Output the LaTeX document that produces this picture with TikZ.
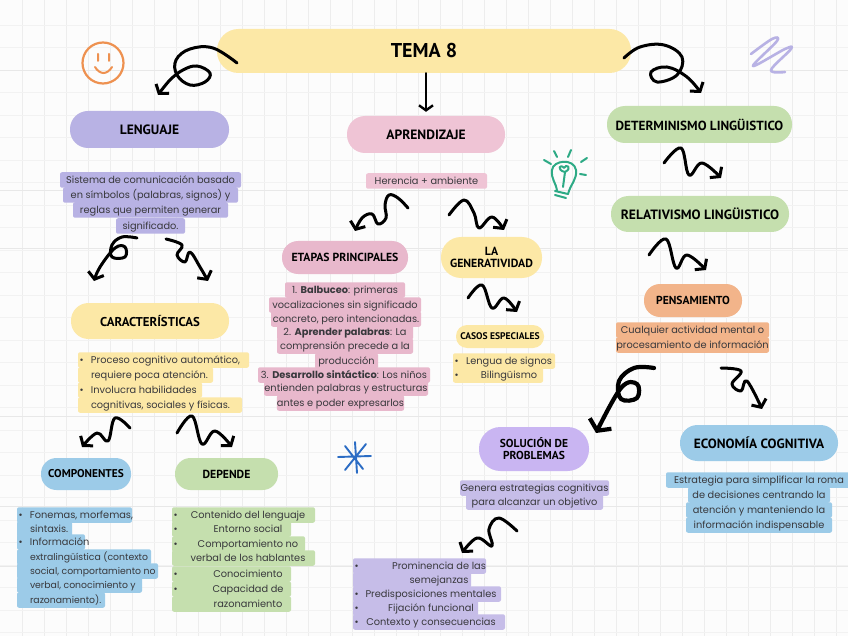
\documentclass[tikz,border=0pt]{standalone}
\usepackage{fontspec}
\setmainfont{Poppins}
\newfontfamily\headf{PT Sans}
\usetikzlibrary{arrows.meta}
\definecolor{ink}{HTML}{38383C}
\definecolor{cyel}{HTML}{FCE8A6}
\definecolor{cpur}{HTML}{B8B2E4}
\definecolor{cpink}{HTML}{EFC4D5}
\definecolor{cpinkb}{HTML}{E8B8CC}
\definecolor{cgrn}{HTML}{C5DFAE}
\definecolor{corg}{HTML}{F2B48A}
\definecolor{cblu}{HTML}{9CCBE8}
\definecolor{clil}{HTML}{C9B5F2}
\definecolor{cpurb}{HTML}{C6BDE8}
\definecolor{csmile}{HTML}{EE9150}
\definecolor{cbulb}{HTML}{2DAA85}
\definecolor{cstar}{HTML}{2B6CC4}
\tikzset{
  hl/.style={inner sep=0pt,minimum height=15.5pt,text height=8.5pt,text depth=1.5pt,rounded corners=2pt,font=\fontsize{9.8}{11}\selectfont,text=ink},
  pillbox/.style={inner sep=0pt,align=center,text=black,font=\headf\bfseries},
  squig/.style={draw=black,line width=3pt,line cap=round,line join=round,smooth,tension=0.65,-{Straight Barb[length=6pt,width=16pt,line width=3pt]}},
  squigb/.style={squig,line width=4.2pt,-{Straight Barb[length=8pt,width=24pt,line width=4.2pt]}},
  gridl/.style={draw=black!7,line width=.6pt}
}
\newcommand\fsz[1]{\fontsize{#1}{17}\selectfont}
\newcommand\nrw{\fontsize{9.3}{11}\selectfont}
\newcommand\pill[7]{\pgfmathsetmacro\pw{#4-#2}\pgfmathsetmacro\ph{#5-#3}\pgfmathsetmacro\pr{min(\pw,\ph)/2-0.5}\node[pillbox,fill=#6,minimum width=\pw pt,minimum height=\ph pt,rounded corners=\pr pt] (#1) at ({(#2+#4)/2},{(#3+#5)/2}) {#7};}
\newcommand\hlc[6]{\pgfmathsetmacro\hw{#3-#2}\node[hl,fill=#5,minimum width=\hw pt] (#1) at ({(#2+#3)/2},#4) {#6};}
\newcommand\hll[8]{\pgfmathsetmacro\hw{#3-#2}\node[hl,fill=#5,minimum width=\hw pt] (#1) at ({(#2+#3)/2},#4) {\makebox[\hw pt][l]{#6\hspace{#7pt}#8}};}
\newcommand\hlm[8]{\pgfmathsetmacro\hw{#3-#2}\node[hl,fill=#5,minimum width=\hw pt] (#1) at ({(#2+#3)/2},#4) {\makebox[\hw pt][l]{#6\hspace{#7pt}\makebox[0pt][c]{#8}}};}
\newcommand\bu{\rlap{\hspace{1.5pt}\textbullet}}
\begin{document}
\begin{tikzpicture}[x=1pt,y=-1pt]
\useasboundingbox (0,0) rectangle (848,636);
\fill[white!99!black] (0,0) rectangle (848,636);
% paper grid
\foreach \gx in {22,44,...,846}{\draw[gridl] (\gx,0) -- (\gx,636);}
\foreach \gy in {25,47.5,...,636}{\draw[draw=black!5,line width=.6pt] (0,\gy) -- (848,\gy);}
\foreach \gy in {70,190,248,416,506,566}{\draw[draw=black!9,line width=.8pt] (0,\gy) -- (848,\gy);}

% title and main boxes
\pill{tema}{217}{29}{631}{73}{cyel}{\fsz{20}TEMA 8}
\pill{leng}{70}{111}{229}{148}{cpur}{\fsz{13.5}LENGUAJE}
\pill{apre}{347}{116}{505}{153}{cpink}{\fsz{13.5}APRENDIZAJE}
\pill{dete}{607}{106}{792}{143}{cgrn}{\fsz{13.2}DETERMINISMO LINGÜISTICO}
\pill{rela}{611}{196}{789}{232}{cgrn}{\fsz{13.5}RELATIVISMO LINGÜISTICO}
\pill{pens}{644}{284}{742}{317}{corg}{\fsz{11.6}PENSAMIENTO}
\pill{etap}{282}{241}{408}{274}{cpinkb}{\fsz{11.7}ETAPAS PRINCIPALES}
\pill{gene}{441}{237}{542}{278}{cyel}{\fsz{11.8}LA\\\fsz{11.8}GENERATIVIDAD}
\pill{caso}{456}{325}{544}{348}{cyel}{\fsz{9.6}CASOS ESPECIALES}
\pill{cara}{71}{303}{229}{339}{cyel}{\fsz{12.8}CARACTERÍSTICAS}
\pill{comp}{41}{458}{131}{490}{cblu}{\fsz{11.3}COMPONENTES}
\pill{depe}{175}{458}{278}{490}{cgrn}{\fsz{11.7}DEPENDE}
\pill{solu}{479}{427}{589}{471}{clil}{\fsz{11.5}SOLUCIÓN DE\\\fsz{11.5}PROBLEMAS}
\pill{econ}{680}{425}{838}{461}{cblu}{\fsz{13.4}ECONOMÍA COGNITIVA}

% Lenguaje description
\hlc{la}{60}{241}{180}{cpur}{Sistema de comunicación basado}
\hlc{lb}{63}{238}{195}{cpur}{en símbolos (palabras, signos) y}
\hlc{lc}{73}{228}{210}{cpur}{reglas que permiten generar}
\hlc{ld}{116}{185}{226}{cpur}{significado.}
% Herencia
\hlc{he}{366}{487}{181}{cpink}{Herencia + ambiente}
% Etapas
\hlc{ea}{285}{405}{290}{cpinkb}{1. \textbf{Balbuceo}: primeras}
\hlc{eb}{269}{421}{305}{cpinkb}{vocalizaciones sin significado}
\hlc{ec}{271}{421}{319}{cpinkb}{concreto, pero intencionadas.}
\hlc{ed}{277}{413}{332}{cpinkb}{2. \textbf{Aprender palabras}: La}
\hlc{ee}{277}{413}{346}{cpinkb}{comprensión precede a la}
\hlc{ef}{315}{378}{361}{cpinkb}{producción}
\hlc{eg}{258}{430}{375}{cpinkb}{3. \textbf{Desarrollo sintáctico}: Los niños}
\hlc{eh}{264}{428}{388}{cpinkb}{entienden palabras y estructuras}
\hlc{ei}{277}{404}{403}{cpinkb}{antes e poder expresarlos}
% Caracteristicas
\hll{ca}{78}{249}{360}{cyel}{\bu}{13}{Proceso cognitivo automático,}
\hll{cb}{78}{213}{375}{cyel}{}{13}{requiere poca atención.}
\hll{cc}{78}{202}{390}{cyel}{\bu}{13}{Involucra habilidades}
\hll{cd}{78}{242}{405}{cyel}{}{13}{cognitivas, sociales y físicas.}
% Componentes
\hll{pa}{17}{132}{515}{cblu}{\bu}{13}{Fonemas, morfemas,}
\hll{pb}{17}{72}{529}{cblu}{}{13}{sintaxis.}
\hll{pc}{17}{85}{542}{cblu}{\bu}{13}{Información}
\hll{pd}{17}{151}{557}{cblu}{}{13}{\nrw extralingüística (contexto}
\hll{pe}{17}{158}{571}{cblu}{}{13}{\nrw social, comportamiento no}
\hll{pf}{17}{142}{585}{cblu}{}{13}{\nrw verbal, conocimiento y}
\hll{pg}{17}{105}{600}{cblu}{}{13}{\nrw razonamiento).}
% Depende
\hlm{da}{172}{315}{515}{cgrn}{\bu}{76}{Contenido del lenguaje}
\hlm{db}{172}{291}{529}{cgrn}{\bu}{76}{Entorno social}
\hlm{dc}{172}{305}{544}{cgrn}{\bu}{76}{Comportamiento no}
\hlm{dd}{172}{315}{558}{cgrn}{}{76}{verbal de los hablantes}
\hlm{de}{172}{291}{574}{cgrn}{\bu}{76}{Conocimiento}
\hlm{df}{172}{291}{589}{cgrn}{\bu}{76}{Capacidad de}
\hlm{dg}{172}{291}{604}{cgrn}{}{76}{razonamiento}
% Casos
\hlm{sa}{453}{555}{361}{cyel}{\bu}{56}{Lengua de signos}
\hlm{sb}{453}{543}{375}{cyel}{\bu}{56}{Bilingüismo}
% Pensamiento
\hlc{na}{616}{769}{330}{corg}{Cualquier actividad mental o}
\hlc{nb}{616}{769}{345}{corg}{procesamiento de información}
% Solucion
\hlc{ga}{460}{609}{488}{cpurb}{Genera estrategias cognitivas}
\hlc{gb}{466}{603}{502}{cpurb}{para alcanzar un objetivo}
% Economia
\hlc{ia}{666}{852}{480}{cblu}{Estrategia para simplificar la roma}
\hlc{ib}{688}{830}{495}{cblu}{de decisiones centrando la}
\hlc{ic}{686}{832}{510}{cblu}{atención y manteniendo la}
\hlc{id}{686}{832}{525}{cblu}{información indispensable}
% Solucion list
\hlm{ua}{353}{486}{566}{cpurb}{\bu}{86}{Prominencia de las}
\hlm{ub}{353}{471}{580}{cpurb}{}{86}{semejanzas}
\hlm{uc}{353}{501}{594}{cpurb}{\bu}{78}{Predisposiciones mentales}
\hlm{ud}{353}{478}{608}{cpurb}{\bu}{78}{Fijación funcional}
\hlm{ue}{353}{505}{622}{cpurb}{\bu}{78}{Contexto y consecuencias}

% connector ends
\foreach \n/\x/\y in {s1/237/63,e1/158/95,s3/624/58,e3/701/93,s4/137/238,e4/94/281,s5/166/239,e5/208/281,
 s6/408/208,e6/355/231,s7/449/215,e7/504/230,s8/664/163,e8/721/178,s9/649/255,e9/706/270,s10/468/298,e10/517/312,
 s11/130/428,e11/82/447,s12/177/433,e12/232/447,s13/654/368,e13/596/433,s14/721/368,e14/762/409,s15/517/531,e15/462/553}
 {\coordinate (\n) at (\x,\y);}

% connectors
\draw[squig] plot coordinates {(s1) (213,48) (190,49) (176,60) (177,75) (190,85) (205,82) (210,73) (197,66) (183,70) (170,80) (e1)};
\draw[line width=2.4pt,line cap=round,-{Straight Barb[length=5pt,width=14pt,line width=2.4pt]},shorten >=4pt] (tema.south -| apre.north) -- (apre.north);
\draw[squig] plot coordinates {(s3) (640,47) (664,45) (682,57) (677,75) (657,82) (651,72) (667,67) (687,77) (e3)};
\draw[squig] plot coordinates {(s4) (122,237) (112,245) (112,257) (125,257) (125,247) (115,248) (100,267) (e4)};
\draw[squig] plot coordinates {(s5) (182,245) (177,255) (185,262) (190,252) (200,267) (e5)};
\draw[squig] plot coordinates {(s6) (398,198) (389,195) (385,205) (386,218) (378,224) (372,214) (362,218) (e6)};
\draw[squig] plot coordinates {(s7) (464,200) (474,213) (479,228) (492,217) (e7)};
\draw[squig] plot coordinates {(s8) (681,148) (689,175) (702,163) (e8)};
\draw[squig] plot coordinates {(s9) (666,239) (676,268) (687,255) (e9)};
\draw[squig] plot coordinates {(s10) (482,285) (492,308) (504,298) (e10)};
\draw[squig] plot coordinates {(s11) (115,418) (108,441) (97,433) (e11)};
\draw[squig] plot coordinates {(s12) (192,416) (202,444) (215,431) (e12)};
\draw[squigb] plot coordinates {(s13) (634,368) (619,381) (621,399) (637,398) (637,384) (621,388) (e13)};
\draw[squig] plot coordinates {(s14) (741,371) (732,384) (741,391) (747,381) (e14)};
\draw[squig] plot coordinates {(s15) (499,518) (489,529) (492,546) (477,538) (e15)};

% smiley
\draw[draw=csmile,line width=2.2pt] (103,63) circle (20.5);
\draw[draw=csmile,line width=2pt,line cap=round] (98,54) -- (98,61) (109,54) -- (109,61) (95,67) .. controls (100,75) and (107,75) .. (112,67);
% scribble
\draw[draw=cpur,line width=2.6pt,line cap=round,line join=round,smooth,tension=.6] plot coordinates {(751,54) (772,39) (777,41) (753,66) (785,49) (791,49) (771,70) (785,72)};
% bulb
\begin{scope}[draw=cbulb,line width=2pt,line cap=round,line join=round]
\draw (557,191) .. controls (556,182) and (551,180) .. (552,170) .. controls (553,160) and (574,158) .. (576,170) .. controls (577,180) and (571,183) .. (568,194);
\draw (555,191) -- (568,194) (555,195) -- (566,198);
\draw (563,187) -- (565,172) (565,172) .. controls (556,170) and (560,163) .. (564,168) .. controls (566,163) and (573,168) .. (565,172);
\draw (544,160) -- (551,164) (554,151) -- (557,157) (571,150) -- (568,157) (587,158) -- (581,162) (586,175) -- (580,174);
\end{scope}
% asterisk
\draw[draw=cstar,line width=1.9pt,line cap=round] (338,457) -- (371,456) (345,446) -- (363,469) (355,442) -- (357,473) (366,444) -- (345,470);
\end{tikzpicture}
\end{document}
